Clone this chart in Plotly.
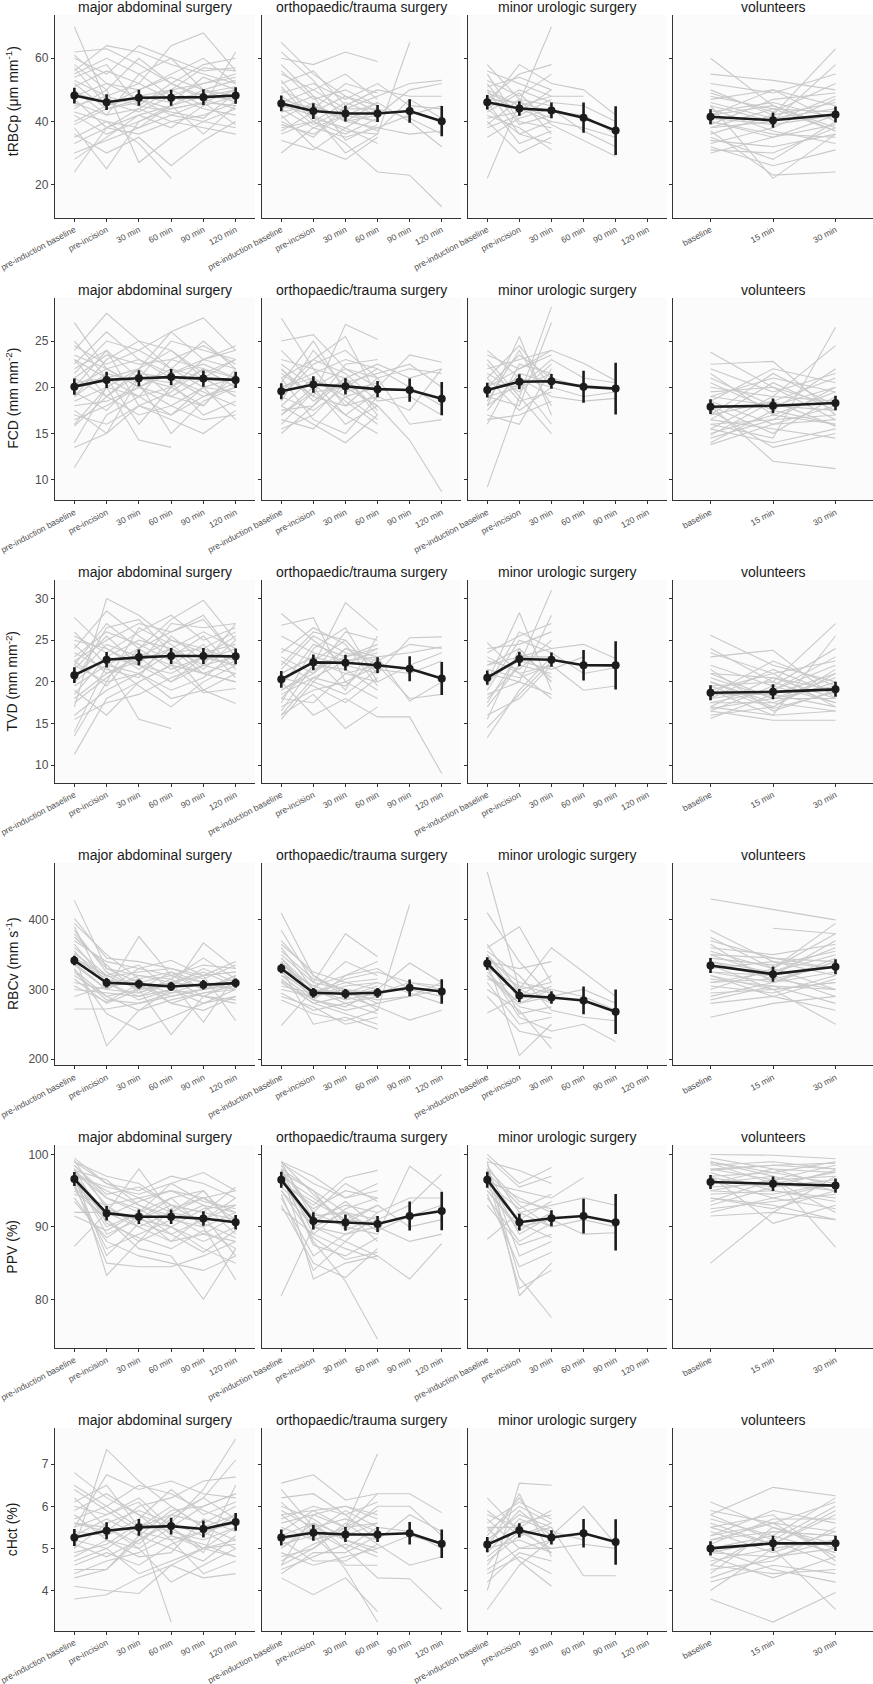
import plotly.graph_objects as go

N = None
W, H = 873, 1684

SURG_TIMES = ["pre-induction baseline", "pre-incision", "30 min", "60 min", "90 min", "120 min"]
VOL_TIMES = ["baseline", "15 min", "30 min"]
GROUPS = ["major abdominal surgery", "orthopaedic/trauma surgery", "minor urologic surgery", "volunteers"]
PARAM_LABELS = ["tRBCp (μm mm<sup>-1</sup>)", "FCD (mm mm<sup>-2</sup>)", "TVD (mm mm<sup>-2</sup>)",
                "RBCv (mm s<sup>-1</sup>)", "PPV (%)", "cHct (%)"]
Y_TICKS = [[20, 40, 60], [10, 15, 20, 25], [10, 15, 20, 25, 30], [200, 300, 400], [80, 90, 100], [4, 5, 6, 7]]
Y_RANGES = [[9.6, 73.7], [7.8, 29.7], [7.9, 32.2], [191, 482], [73.3, 101.25], [3.05, 7.86]]

# ---------------- tRBCp ----------------
T1_MAJ = [[70, 46, 48, 50, 52, 55], [24, 38, 42, 45, 48, 47], [38, 25, 40, 44, 46, 45], [62, 63, 58, 52, 48, 50],
          [60, 55, 64, 60, 56, 57], [58, 50, 27, 35, 40, 38], [35, 40, 33, 22, N, N], [45, 48, 52, 64, 68, 56],
          [52, 44, 46, 50, 45, 62], [55, 60, 55, 48, 52, 54], [42, 36, 40, 45, 50, 53], [30, 34, 38, 42, 40, 44],
          [48, 52, 50, 55, 60, 52], [50, 42, 44, 40, 38, 36], [40, 45, 48, 46, 54, 50], [56, 64, 62, 58, 55, 52],
          [33, 38, 36, 40, 42, 46], [46, 42, 55, 60, 50, 48], [61, 52, 47, 44, 46, 50], [36, 30, 35, 26, 34, 40],
          [53, 48, 45, 52, 58, 60], [44, 50, 60, 52, 47, 44], [49, 46, 43, 48, 44, 42], [57, 45, 50, 54, 50, 46],
          [28, 35, 42, 38, 45, 48], [43, 40, 38, 45, 36, 45], [51, 56, 52, 47, 49, 51], [39, 44, 47, 42, 46, 39],
          [47, 38, 44, 50, 57, 56], [54, 58, 45, 43, 41, 49]]
T1_ORT = [[65, 55, 48, 45, N, N], [30, 38, 42, 40, N, N], [60, 58, 62, 59, N, N], [55, 50, 44, 48, 52, 53],
          [48, 42, 37, 36, 65, N], [38, 40, 33, 24, 23, 13], [50, 45, 40, 42, 50, 52], [44, 38, 35, 38, 36, 37],
          [52, 56, 45, 50, 48, 48], [42, 32, 28, 35, N, N], [47, 44, 52, 49, N, N], [36, 40, 46, 42, N, N],
          [58, 48, 43, 40, N, N], [41, 46, 40, 38, 42, 45], [46, 50, 55, 47, N, N], [53, 41, 38, 44, N, N],
          [39, 36, 42, 46, 40, 32], [45, 42, 30, 36, N, N], [49, 52, 47, 52, 45, 44], [34, 31, 38, 33, N, N],
          [56, 47, 50, 45, N, N], [43, 45, 41, 37, 47, 41], [40, 35, 45, 50, N, N], [51, 40, 36, 41, N, N],
          [37, 43, 48, 43, N, N], [62, 53, 40, 46, N, N], [44, 48, 34, 39, N, N], [47, 39, 44, 44, 41, 36]]
T1_MIN = [[56, 52, 48, N, N, N], [22, 46, 70, N, N, N], [50, 36, 40, N, N, N], [45, 58, 52, 50, 42, N],
          [48, 44, 40, 38, 35, N], [53, 48, 55, N, N, N], [40, 30, 35, N, N, N], [44, 50, 46, 45, 40, N],
          [55, 40, 38, N, N, N], [38, 42, 47, N, N, N], [47, 46, 43, 42, 36, N], [42, 38, 31, N, N, N],
          [51, 54, 50, N, N, N], [35, 41, 44, 37, 32, N], [49, 45, 41, N, N, N], [46, 33, 37, N, N, N],
          [58, 47, 45, N, N, N], [43, 49, 39, 34, 29, N], [41, 43, 50, N, N, N], [52, 39, 42, N, N, N],
          [39, 47, 36, N, N, N], [47, 55, 58, N, N, N], [44, 36, 33, N, N, N], [50, 45, 48, 48, N, N]]
T1_VOL = [[60, 45, 38], [30, 35, 42], [55, 53, 50], [50, 42, 63], [45, 22, 36], [38, 40, 58], [42, 50, 45],
          [35, 28, 40], [48, 44, 37], [33, 38, 47], [40, 36, 35], [52, 49, 55], [43, 46, 41], [37, 23, 24],
          [46, 41, 44], [31, 30, 38], [39, 47, 49], [44, 37, 33], [36, 42, 46], [41, 39, 42], [47, 50, 40],
          [34, 32, 36], [49, 43, 52], [40, 35, 39], [38, 44, 43], [32, 26, 31], [45, 40, 48], [42, 45, 37]]
T1_MEAN = [[48.2, 46.1, 47.5, 47.5, 47.7, 48.2], [45.7, 43.3, 42.5, 42.5, 43.3, 40.1],
           [46.1, 44.1, 43.5, 41.2, 37.1, N], [41.5, 40.4, 42.2]]
T1_ERR = [[2.5, 2.5, 2.5, 2.5, 2.5, 2.6], [2.5, 2.5, 2.5, 2.7, 3.7, 4.8],
          [2.3, 2.3, 2.5, 4.8, 7.7, N], [2.4, 2.4, 2.5]]

# ---------------- FCD ----------------
F_MAJ = [[27, 22, 20, 19, 21, 23], [11.3, 17, 19, 20, 22, 21], [13.5, 15, 18, 17, 19, 20], [14, 20, 14.3, 13.5, N, N],
         [24, 28, 25, 22, 20, 21], [23, 21, 22, 26, 27.5, 24], [19, 23, 25, 24, 21, 19], [21, 19, 17, 18, 16.5, 17],
         [22, 24, 21, 20, 23, 24.5], [18, 18.5, 20, 22, 25, 22], [20, 22, 23, 21, 19, 20.5], [25, 21, 19, 23, 22, 20],
         [16, 20, 22, 19, 18, 21.5], [17, 16, 18, 16.5, 15, 17.5], [21.5, 25, 24, 22, 21, 19],
         [19.5, 17.5, 21, 25, 24, 23], [23.5, 22, 20, 18, 20, 16.5], [15.8, 19, 21.5, 21, 19.5, 18],
         [20.5, 21, 16, 20, 18, 22], [22.5, 26, 23, 21.5, 22.5, 21], [18.5, 20, 19, 17, 20, 19.5],
         [24.5, 22.5, 24, 26, 23, 24], [17.5, 15, 21, 20.5, 17, 18.5], [21, 23.5, 22.5, 23, 24.5, 22.5],
         [19, 21.5, 20.5, 15, 18.5, 20], [23, 19, 22, 24, 21.5, 23], [20, 24, 18, 19.5, 22, 20],
         [16.5, 18, 20, 21.5, 23, 22]]
F_ORT = [[27.5, 22, 18, 19, N, N], [15, 18, 21, 17, N, N], [25, 25.7, 22, 20, N, N], [22, 19, 26.8, 25.2, N, N],
         [18, 16, 14, 17, N, N], [20, 21, 19, 20, 23.5, 22.7], [17, 20, 22, 21, 22, 21.5], [21, 23, 25.5, 19, N, N],
         [19, 17.5, 20, 18, 14.3, 8.7], [16, 19.5, 17, 15, N, N], [23, 22, 21, 22.5, 21, 22],
         [18.5, 24, 20, 18, N, N], [21.5, 19, 18, 21, 16, 16.5], [16.5, 15.5, 19, 16.5, N, N],
         [20, 21.5, 23, 22, 20, 18], [24, 20.5, 17, 19.5, N, N], [19.5, 23, 21.5, 18.5, 19, 17],
         [17.5, 18, 22.5, 23, N, N], [22.5, 20, 16, 18, N, N], [15.5, 17, 20.5, 21.5, 22.5, 20],
         [20.5, 25, 19.5, 20.5, N, N], [18, 21, 18.5, 16, N, N], [21, 16.5, 15, 19, 17.5, 22],
         [19, 22.5, 24, 21, N, N], [17, 19.5, 20, 22, N, N], [22, 18.5, 21, 17.5, N, N]]
F_MIN = [[9.2, 19, 28.7, N, N, N], [24, 21, 20, N, N, N], [18, 25.5, 17, N, N, N], [20, 22, 24, N, N, N],
         [19, 18, 27, N, N, N], [22, 23, 24, 22.6, 20.7, N], [17, 16, 22, N, N, N], [21, 17.5, 20, 19, 19.5, N],
         [23, 19, 15, N, N, N], [19.5, 21, 19, 18.5, 18.8, N], [16, 22.5, 21.5, N, N, N],
         [20.5, 20, 23, 21, 20.5, N], [18.5, 24, 18, N, N, N], [21.5, 19.5, 22.5, N, N, N],
         [17.5, 21.5, 20.5, N, N, N], [22.5, 18.5, 19.5, N, N, N], [20, 23.5, 21, 20, N, N],
         [18, 20.5, 16, N, N, N], [23.5, 22, 23.5, N, N, N], [16.5, 17, 18.5, N, N, N],
         [21, 24.5, 20, N, N, N], [19, 20, 21.5, N, N, N]]
F_VOL = [[23.8, 20, 18], [22.5, 22.8, 17], [13.8, 16, 18], [18, 12, 11.2], [16, 14.5, 26.5], [20, 19, 24.5],
         [17, 18.5, 21], [15, 17, 16], [19, 21, 19.5], [14.5, 16.5, 20], [21, 18, 17.5], [16.5, 15.5, 14.5],
         [18.5, 22, 20.5], [17.5, 13.5, 15], [15.5, 19, 18.5], [20.5, 17.5, 22], [19.5, 20, 16.5], [16, 16.5, 17],
         [18, 15, 19], [14, 17.5, 16], [22, 19.5, 21.5], [17, 21.5, 18], [15.5, 14, 15.5], [19, 18, 20],
         [16.5, 20.5, 17.5], [18.5, 16, 16.5], [21.5, 17, 19.5], [14.8, 18.5, 15.8]]
F_MEAN = [[20.07, 20.8, 20.98, 21.1, 20.94, 20.8], [19.57, 20.3, 20.1, 19.8, 19.7, 18.77],
          [19.7, 20.6, 20.65, 20.07, 19.86, N], [17.9, 18.0, 18.3]]
F_ERR = [[0.87, 0.87, 0.87, 0.87, 0.87, 0.87], [0.87, 0.9, 0.87, 0.87, 1.26, 1.8],
         [0.8, 0.8, 0.8, 1.73, 2.8, N], [0.8, 0.8, 0.78]]

# ---------------- TVD ----------------
V_MAJ = [[11.3, 18, 20, 22, 21, 20], [14, 22, 15.5, 14.4, N, N], [27.7, 24, 22, 21, 23, 22], [17, 30, 28, 25, 24, 26],
         [22, 27, 24, 27.5, 29.8, 25], [24.5, 21, 23, 20, 22, 27], [19, 16, 20, 22, 18.7, 19.2], [20, 23, 25, 24, 22, 21],
         [13.5, 20, 21, 18, 19, 17.4], [22.5, 25, 27, 26, 28, 23], [18, 21, 22.5, 24, 26, 24],
         [21, 22.5, 19.5, 17, 20, 22], [25.5, 23.5, 26, 28, 25, 26.5], [16, 19, 21, 23.5, 24, 22.5],
         [23, 26, 24.5, 22.5, 21, 20], [20.5, 24.5, 23, 25, 23.5, 24.5], [15.5, 17.5, 18.5, 20.5, 22, 23],
         [22, 20, 26.5, 24.5, 21.5, 25], [24, 28.5, 25.5, 23, 25.5, 21.5], [19.5, 22, 21, 19, 20.5, 23.5],
         [21.5, 25.5, 22, 27, 26.5, 27], [26, 22, 24, 21.5, 23, 22], [17.5, 20.5, 23.5, 22, 24.5, 20.5],
         [23.5, 21.5, 20.5, 25.5, 22.5, 24], [20, 26.5, 27.5, 23.5, 19, 21], [18.5, 23, 22, 20, 23, 25.5],
         [22.5, 19.5, 24, 26, 27.5, 23], [25, 24, 21.5, 24, 21, 22.5]]
V_ORT = [[28.2, 25, 22, 24, N, N], [15.5, 20, 24, 22, N, N], [26.8, 27.7, 20, 18, N, N], [18, 22, 29.5, 26.2, N, N],
         [16, 18.5, 14.4, 17, N, N], [21, 23, 22, 21, 25.3, 25.4], [19, 21, 24, 23, 23.5, 24.2],
         [20, 16, 18, 15.8, 15.8, 9], [22, 26, 25, 21, N, N], [17, 19, 20, 22, 18, 18.5],
         [24, 22.5, 21, 20, 22, 23.5], [19.5, 24.5, 23, 24.5, N, N], [18.5, 20.5, 19.5, 23, 17.7, 20],
         [23, 21, 26, 25, N, N], [16.5, 22, 21.5, 19, N, N], [21.5, 25.5, 23.5, 22.5, 24.5, 24],
         [20.5, 19.5, 17.5, 20.5, N, N], [25.5, 23.5, 22.5, 23.5, N, N], [17.5, 24, 26.5, 20, N, N],
         [22.5, 20, 18.5, 21.5, 21, 22.5], [19, 21.5, 23, 24, N, N], [23.5, 26.5, 24.5, 19.5, N, N],
         [18, 17.5, 21, 22, N, N], [21, 23, 19, 25.5, N, N], [20, 22.5, 25, 21, N, N], [16, 20.5, 22.5, 23, N, N]]
V_MIN = [[13.3, 19, 23, N, N, N], [24.7, 21, 18, N, N, N], [20, 28.3, 19, N, N, N], [18, 22, 31, N, N, N],
         [21, 20, 28, N, N, N], [22, 23, 24, 24.5, 22.8, N], [16, 18, 22, N, N, N], [23, 21, 22, 19, 19.5, N],
         [19, 25, 23.5, 21, 21.7, N], [17.5, 23.5, 20.5, N, N, N], [24, 24.5, 26, N, N, N],
         [20.5, 22.5, 21.5, 23, N, N], [15.5, 24, 20, N, N, N], [22.5, 21.5, 25, N, N, N],
         [19.5, 26, 24, N, N, N], [21.5, 20.5, 22, N, N, N], [17, 22, 21, N, N, N], [23.5, 25.5, 27, N, N, N],
         [18.5, 20, 18.5, N, N, N], [20, 23, 23, N, N, N], [22, 24, 20, N, N, N], [14.5, 18.5, 22.5, N, N, N]]
V_VOL = [[25.6, 22, 20], [24, 20, 27], [16.5, 15.4, 15.4], [17, 16, 25.5], [23, 23.8, 18], [18, 19, 22],
         [20, 17, 21], [19, 21, 17], [16.8, 18, 20.5], [21, 20.5, 19], [17.5, 17.5, 16.5], [22, 19.5, 24],
         [18.5, 22.5, 19.5], [20.5, 18, 18], [16, 17, 21.5], [19.5, 20, 17.5], [21.5, 16.5, 19], [17.5, 19, 23],
         [18, 21.5, 18.5], [15.6, 18.5, 17], [20, 17.5, 20], [19, 16, 16.5], [23.5, 21, 22.5], [17, 20.5, 18],
         [18.5, 18.5, 21], [16.5, 19.5, 17.5], [21, 18, 19.5], [19.5, 16.8, 18.8]]
V_MEAN = [[20.8, 22.66, 22.94, 23.1, 23.1, 23.06], [20.3, 22.34, 22.3, 22.0, 21.57, 20.4],
          [20.5, 22.74, 22.66, 22.0, 21.98, N], [18.7, 18.8, 19.1]]
V_ERR = [[0.95, 0.93, 0.95, 0.95, 0.95, 0.95], [1.0, 0.95, 0.95, 0.95, 1.5, 1.97],
         [0.85, 0.87, 0.85, 1.83, 2.9, N], [0.9, 0.9, 0.9]]

# ---------------- RBCv ----------------
R_MAJ = [[428, 330, 310, 320, 300, 305], [402, 345, 340, 330, 320, 325], [272, 272, 280, 290, 300, 310],
         [350, 219, 270, 300, 290, 280], [390, 300, 376, 320, 310, 300], [330, 265, 242, 260, 280, 300],
         [360, 320, 300, 235, 290, 310], [340, 310, 290, 300, 367, 330], [320, 290, 300, 310, 253, 320],
         [380, 330, 320, 310, 320, 255], [310, 300, 330, 342, 320, 340], [345, 315, 305, 290, 300, 320],
         [370, 340, 330, 320, 335, 330], [325, 285, 280, 295, 310, 300], [355, 305, 315, 280, 295, 305],
         [300, 295, 290, 310, 305, 315], [385, 325, 300, 305, 330, 310], [335, 300, 320, 315, 290, 285],
         [365, 310, 285, 300, 320, 325], [315, 280, 300, 325, 310, 300], [345, 320, 335, 300, 280, 290],
         [290, 305, 310, 295, 300, 320], [375, 335, 295, 315, 345, 315], [328, 290, 270, 285, 295, 300],
         [352, 318, 325, 330, 315, 335], [305, 282, 308, 280, 270, 290], [395, 350, 315, 325, 300, 310],
         [338, 300, 295, 310, 325, 305]]
R_ORT = [[410, 320, 290, 300, N, N], [248, 300, 280, 290, N, N], [385, 310, 380, 347, N, N],
         [360, 300, 340, 320, N, N], [330, 250, 260, 243, N, N], [300, 290, 300, 270, 422, N],
         [340, 295, 310, 300, 338, 310], [320, 285, 270, 280, 290, 300], [350, 310, 300, 295, 310, 305],
         [290, 275, 250, 260, N, N], [370, 320, 295, 310, N, N], [310, 280, 290, 275, 256, 270],
         [335, 305, 320, 330, 300, 290], [285, 265, 255, 270, N, N], [345, 300, 285, 295, N, N],
         [325, 290, 305, 310, 295, 280], [315, 280, 265, 250, N, N], [355, 315, 300, 290, N, N],
         [305, 295, 315, 325, 310, 300], [340, 285, 275, 300, N, N], [365, 325, 310, 315, N, N],
         [320, 300, 295, 285, 290, 310], [295, 270, 280, 265, N, N], [330, 305, 290, 305, N, N],
         [345, 290, 300, 280, N, N], [312, 285, 320, 340, N, N]]
R_MIN = [[469, 300, 280, N, N, N], [410, 340, 290, N, N, N], [266, 290, 300, N, N, N], [360, 390, 310, N, N, N],
         [340, 205, 250, N, N, N], [350, 300, 360, 325, 290, N], [320, 280, 290, 300, 280, N],
         [330, 260, 240, 250, 225, N], [345, 310, 300, 290, 270, N], [300, 270, 215, N, N, N],
         [335, 290, 320, N, N, N], [355, 320, 270, 260, 255, N], [325, 280, 300, N, N, N], [310, 250, 260, N, N, N],
         [365, 295, 285, N, N, N], [340, 330, 340, N, N, N], [320, 275, 265, N, N, N], [350, 285, 305, N, N, N],
         [290, 240, 230, N, N, N], [330, 305, 295, N, N, N], [345, 265, 275, N, N, N], [315, 300, 310, N, N, N]]
R_VOL = [[430, 415, 400], [260, 280, 290], [385, 340, 320], [300, 330, 395], [350, 320, 370], [320, 300, 250],
         [340, 325, 360], [310, 315, 300], [370, 345, 330], [290, 310, 340], [335, 300, 310], [355, 330, 380],
         [325, 320, 290], [280, 290, 270], [345, 335, 355], [305, 295, 320], [365, 310, 345], [330, 340, 330],
         [315, 305, 280], [360, 350, 365], [295, 300, 310], [340, 315, 335], [375, 330, 300], [310, 325, 350],
         [325, 310, 325], [285, 305, 300], [350, 345, 340], [320, 290, 315], [N, 388, 380]]
R_MEAN = [[341.6, 309.6, 307.7, 304.3, 306.7, 309.1], [330.1, 295.2, 293.8, 295.2, 302.4, 297.1],
          [337.3, 291.4, 288.5, 284.2, 268, N], [334.4, 322, 332.5]]
R_ERR = [[6.7, 6.7, 6.7, 6.7, 6.7, 6.7], [7, 7, 7, 7, 12, 17.5], [9, 9.3, 9, 20, 32, N], [10.8, 11, 10.8]]

# ---------------- PPV ----------------
P_MAJ = [[99.5, 96, 94, 95, 93, 92], [87.3, 92, 90, 88, 89, 88], [98, 83.3, 88, 90, 87, 85], [97, 92, 98, 92, 94, 95],
         [96, 85, 84.5, 84.5, 86, 88], [98.5, 94, 92, 96, 97.5, 95], [95, 91, 87, 86, 80, 87],
         [97.5, 95, 93, 91, 90, 82.7], [92, 92, 91, 93, 92, 91], [99, 96, 95, 97, 96, 94], [96.5, 90, 92, 89, 91, 93],
         [94, 88, 86, 85, 84, 86], [98, 93, 94, 92, 95, 90], [97, 89, 91, 94, 90, 92], [99, 97, 96, 93, 92, 95.5],
         [95.5, 87, 89, 91, 93, 89], [97.5, 94, 92.5, 90, 88, 90], [96, 91.5, 93.5, 95, 94, 91],
         [98, 90.5, 88.5, 87, 89.5, 87], [94.5, 93, 90, 92, 91, 94], [97, 95.5, 94.5, 96, 93.5, 92.5],
         [99.2, 92.5, 91, 90, 92.5, 93], [96.8, 86, 90.5, 89, 86.5, 89.5], [91.5, 89.5, 92, 94, 95, 90],
         [98.5, 94.5, 95.5, 93, 90.5, 88.5], [95.5, 91, 88, 92.5, 94, 92], [97.8, 96.5, 93, 91.5, 89, 91.5],
         [93.5, 88.5, 91.5, 88, 91.5, 86]]
P_ORT = [[99, 97, 94, 96, N, N], [80.5, 90, 92, 88, N, N], [98, 82.8, 85, 86, N, N], [97, 88, 82.5, 74.5, N, N],
         [96, 93, 96.8, 97.8, N, N], [98.5, 92, 90, 89, 98.4, 95], [95, 90, 88, 86, 82.8, 87.7],
         [97.5, 95, 92, 91, 93, 97.3], [99, 91, 93, 92, 94, 94], [94, 86, 89, 90, 88, 89], [97, 94, 91, 93, 90, 91],
         [98, 89, 87, 85.5, N, N], [96.5, 92.5, 95, 94, N, N], [93, 85, 83, 87, N, N], [98.8, 96, 94, 95, N, N],
         [95.5, 91.5, 92, 89.5, 91.5, 93], [97.5, 87.5, 86, 88.5, N, N], [96, 93.5, 91, 90.5, N, N],
         [92.5, 89, 92.5, 94, N, N], [98, 95, 89.5, 91.5, N, N], [94.5, 84, 88, 92, N, N], [97, 90.5, 93.5, 90, N, N],
         [99, 94.5, 90.5, 93, N, N], [95, 88.5, 85.5, 86.5, N, N], [97.8, 92, 96, 93.5, N, N], [96.5, 90, 89, 91, N, N]]
P_MIN = [[100, 96, 98.2, N, N, N], [88.3, 92, 90, N, N, N], [99, 80.5, 85, N, N, N], [98, 83, 77.5, N, N, N],
         [97, 81.5, 84, N, N, N], [96, 95, 94, 96.8, N, N], [98.5, 92, 93, 94, 93, N], [95, 90, 91, 89, 89.2, N],
         [97.5, 93, 90, 91, 90, N], [99, 97.8, 96, N, N, N], [94, 88, 90.5, N, N, N], [96.5, 94, 92, N, N, N],
         [98, 86, 88, N, N, N], [95.5, 91, 93.5, N, N, N], [97, 89, 91.5, N, N, N], [93, 87.5, 89, N, N, N],
         [99.5, 95.5, 97, N, N, N], [96, 92.5, 94.5, N, N, N], [94.5, 84.5, 86.5, N, N, N], [98, 93.5, 92.5, N, N, N],
         [97.5, 90.5, 88.5, N, N, N], [95, 89.5, 92, N, N, N]]
P_VOL = [[85, 92, 97], [100, 99.9, 99.4], [99, 97, 87.2], [97, 90.5, 93], [92, 94, 96], [98, 98.5, 98], [96, 97, 95],
         [94, 93, 91], [99.5, 98, 97.5], [95, 96.5, 98.5], [97.5, 95, 94], [93, 95.5, 96.5], [98.5, 99, 98],
         [96.5, 94, 92.5], [91.5, 92, 91], [97, 97.5, 96], [95.5, 96, 97.5], [99, 97.5, 99], [94.5, 95, 93.5],
         [98, 96.5, 97], [96, 98, 95.5], [92.5, 93.5, 94.5], [97.8, 98.5, 98.8], [95, 94.5, 96], [98.8, 96, 95],
         [93.5, 96.5, 92], [96.8, 95.5, 97.8], [94, 92.5, 95]]
P_MEAN = [[96.6, 91.9, 91.4, 91.4, 91.15, 90.65], [96.5, 90.83, 90.6, 90.4, 91.5, 92.2],
          [96.5, 90.65, 91.2, 91.5, 90.65, N], [96.2, 95.95, 95.7]]
P_ERR = [[0.97, 1.0, 1.0, 1.0, 1.0, 1.0], [1.1, 1.2, 1.1, 1.1, 2.0, 2.65], [1.1, 1.15, 1.1, 2.4, 3.9, N],
         [0.97, 1.0, 0.97]]

# ---------------- cHct ----------------
C_MAJ = [[6.8, 6.2, 5.8, 5.5, 6.0, 6.3], [3.8, 3.9, 4.3, 4.6, 5.0, 5.2], [4.1, 4.0, 3.93, 4.6, 4.3, 4.4],
         [5.0, 7.35, 6.6, 6.0, 5.5, 5.8], [6.5, 6.0, 5.5, 3.25, N, N], [5.5, 6.75, 6.4, 6.6, 6.3, 6.2],
         [4.5, 4.5, 5.2, 5.6, 6.4, 7.6], [5.2, 5.0, 5.5, 5.8, 6.2, 7.1], [6.0, 5.8, 6.2, 5.5, 5.0, 4.8],
         [4.8, 5.2, 5.0, 4.2, 4.6, 5.0], [5.6, 5.4, 6.0, 6.2, 6.6, 6.7], [5.9, 6.3, 5.8, 5.2, 5.4, 5.6],
         [4.4, 4.7, 4.9, 5.3, 5.1, 4.8], [5.3, 5.7, 5.3, 5.0, 4.7, 5.3], [6.2, 5.5, 5.1, 5.8, 5.6, 6.0],
         [4.9, 5.1, 5.6, 5.4, 5.2, 5.5], [5.7, 6.0, 6.5, 6.3, 5.9, 5.6], [4.6, 4.9, 4.6, 5.1, 5.4, 5.0],
         [5.4, 5.3, 5.7, 6.4, 5.8, 6.1], [6.4, 5.9, 5.4, 5.2, 4.4, 4.7], [5.0, 5.6, 5.9, 5.6, 5.3, 5.8],
         [5.8, 5.2, 4.8, 4.9, 5.7, 5.4], [4.3, 4.5, 5.3, 5.9, 6.0, 6.3], [5.5, 5.8, 6.1, 5.3, 5.0, 5.5],
         [6.1, 6.5, 5.5, 6.0, 5.5, 5.2], [4.7, 5.0, 4.4, 4.7, 5.0, 5.1], [5.1, 4.8, 5.2, 5.7, 6.2, 5.7],
         [5.6, 5.5, 5.0, 5.5, 4.9, 6.5]]
C_ORT = [[6.55, 6.75, 6.15, 6.3, N, N], [4.3, 3.9, 4.3, 3.5, N, N], [6.4, 5.5, 4.5, 3.25, N, N],
         [4.6, 5.0, 5.5, 7.25, N, N], [5.8, 5.9, 5.5, 6.3, 6.3, 5.85], [5.0, 5.6, 5.0, 4.3, 4.28, 3.55],
         [5.5, 5.2, 5.4, 6.0, 6.0, 5.3], [4.8, 5.0, 5.6, 5.1, 4.6, 4.8], [6.2, 6.3, 5.8, 5.2, 5.8, 5.4],
         [5.2, 5.4, 5.0, 5.5, 5.4, 5.0], [4.9, 4.6, 4.8, 5.0, 5.3, 5.1], [5.6, 5.8, 6.0, 5.8, N, N],
         [5.3, 5.6, 5.3, 5.6, N, N], [4.5, 4.8, 5.1, 4.8, N, N], [5.9, 5.5, 5.7, 5.4, N, N], [5.1, 5.3, 4.6, 4.6, N, N],
         [5.7, 6.0, 5.8, 6.1, N, N], [4.7, 5.1, 5.4, 5.2, N, N], [6.0, 5.7, 5.2, 5.0, N, N], [5.4, 5.9, 6.0, 5.7, N, N],
         [4.4, 4.9, 4.9, 5.3, N, N], [5.8, 5.2, 5.5, 5.9, N, N], [5.0, 5.5, 5.2, 4.9, N, N], [6.1, 5.4, 5.9, 5.5, N, N],
         [5.2, 4.7, 4.7, 5.1, N, N], [4.6, 5.8, 5.5, 5.6, N, N]]
C_MIN = [[6.2, 5.4, 5.0, N, N, N], [3.55, 4.6, 5.2, N, N, N], [4.0, 6.55, 6.5, N, N, N], [5.0, 6.3, 4.8, N, N, N],
         [5.5, 4.7, 4.1, N, N, N], [4.8, 5.4, 5.3, 6.0, 5.1, N], [5.2, 5.8, 5.5, 4.35, 4.35, N],
         [4.5, 5.0, 5.0, 5.1, 5.0, N], [5.6, 6.1, 5.7, N, N, N], [4.2, 4.9, 4.7, N, N, N], [5.8, 5.5, 5.9, N, N, N],
         [4.9, 5.7, 5.4, 5.2, N, N], [5.4, 6.0, 5.6, N, N, N], [5.0, 5.2, 4.9, N, N, N], [5.7, 5.0, 5.2, N, N, N],
         [4.6, 5.6, 5.8, N, N, N], [5.3, 6.2, 5.1, N, N, N], [5.9, 5.3, 5.5, N, N, N], [4.4, 4.8, 4.4, N, N, N],
         [5.1, 5.9, 5.3, N, N, N], [4.7, 5.3, 5.6, N, N, N], [5.5, 5.5, 4.9, N, N, N]]
C_VOL = [[6.1, 5.5, 5.0], [3.8, 3.25, 3.95], [4.0, 5.0, 3.55], [5.8, 6.45, 6.25], [5.0, 5.3, 6.2], [5.5, 5.8, 4.7],
         [4.5, 4.7, 5.5], [5.2, 5.4, 5.3], [4.8, 4.3, 4.8], [5.6, 5.1, 5.9], [4.2, 4.6, 4.4], [5.3, 5.9, 5.6],
         [4.7, 5.0, 5.2], [5.9, 5.6, 6.1], [4.9, 5.2, 4.6], [5.4, 4.9, 5.4], [4.4, 5.5, 5.1], [5.7, 5.3, 4.9],
         [5.1, 5.7, 5.7], [4.6, 4.4, 4.5], [5.5, 5.1, 5.8], [4.3, 4.8, 5.0], [5.0, 4.5, 4.2], [5.2, 5.6, 5.4],
         [4.6, 5.4, 5.3], [5.8, 5.2, 6.0], [4.9, 4.8, 5.2], [5.3, 5.6, 4.8]]
C_MEAN = [[5.26, 5.42, 5.5, 5.53, 5.46, 5.63], [5.26, 5.37, 5.33, 5.33, 5.36, 5.11],
          [5.09, 5.43, 5.26, 5.36, 5.15, N], [5.0, 5.12, 5.12]]
C_ERR = [[0.2, 0.2, 0.2, 0.2, 0.2, 0.21], [0.19, 0.19, 0.18, 0.18, 0.27, 0.34], [0.18, 0.17, 0.17, 0.34, 0.54, N],
         [0.17, 0.18, 0.18]]

ROWS = [
    ([T1_MAJ, T1_ORT, T1_MIN, T1_VOL], T1_MEAN, T1_ERR),
    ([F_MAJ, F_ORT, F_MIN, F_VOL], F_MEAN, F_ERR),
    ([V_MAJ, V_ORT, V_MIN, V_VOL], V_MEAN, V_ERR),
    ([R_MAJ, R_ORT, R_MIN, R_VOL], R_MEAN, R_ERR),
    ([P_MAJ, P_ORT, P_MIN, P_VOL], P_MEAN, P_ERR),
    ([C_MAJ, C_ORT, C_MIN, C_VOL], C_MEAN, C_ERR),
]

# ---------------- layout geometry (pixels) ----------------
X_PIX = [(55, 255), (262, 461), (468, 667), (673, 873)]
ROW_TOP0, ROW_STEP, PANEL_H = 15, 282.6, 202.5
YTITLE_SHIFT = [-15, 0, 0, 0, 0, 0]

FONT = "Liberation Sans, Arial, Helvetica, sans-serif"
GREY = "#c9c9c9"
DARK = "#1c1c1c"
AXIS = "#333333"
TICKTXT = "#4d4d4d"

fig = go.Figure()
annotations = []
layout_axes = {}

for r, (inds, means, errs) in enumerate(ROWS):
    top = ROW_TOP0 + ROW_STEP * r
    bot = top + PANEL_H
    ydom = [1 - bot / H, 1 - top / H]
    for c in range(4):
        k = r * 4 + c + 1
        sfx = "" if k == 1 else str(k)
        times = VOL_TIMES if c == 3 else SURG_TIMES
        pos = {t: i + 1 for i, t in enumerate(times)}
        xs, ys = [], []
        for patient in inds[c]:
            for t, v in zip(times, patient):
                xs.append(pos[t])
                ys.append(v)
            xs.append(None)
            ys.append(None)
        fig.add_trace(go.Scatter(x=xs, y=ys, mode="lines", line=dict(color=GREY, width=1.1),
                                 connectgaps=False, hoverinfo="skip", showlegend=False,
                                 xaxis="x" + sfx, yaxis="y" + sfx))
        fig.add_trace(go.Scatter(x=[pos[t] for t in times], y=means[c], mode="lines+markers",
                                 line=dict(color=DARK, width=2.6), marker=dict(color=DARK, size=8),
                                 error_y=dict(type="data", array=errs[c], visible=True, thickness=2.6,
                                              width=0, color=DARK),
                                 showlegend=False, xaxis="x" + sfx, yaxis="y" + sfx))
        x0, x1 = X_PIX[c]
        layout_axes["xaxis" + sfx] = dict(
            domain=[x0 / W, x1 / W], anchor="y" + sfx, range=[0.4, len(times) + 0.6],
            tickmode="array", tickvals=[pos[t] for t in times], ticktext=times, tickangle=-28,
            tickfont=dict(size=8.5, color=TICKTXT, family=FONT), showgrid=False, zeroline=False,
            showline=True, linecolor=AXIS, linewidth=1.3, ticks="outside", ticklen=3,
            tickcolor=AXIS, tickwidth=1, automargin=False, fixedrange=True,
            ticklabeloverflow="allow")
        layout_axes["yaxis" + sfx] = dict(
            domain=ydom, anchor="x" + sfx, range=Y_RANGES[r], tickmode="array", tickvals=Y_TICKS[r],
            showticklabels=(c == 0), tickfont=dict(size=12, color=TICKTXT, family=FONT),
            showgrid=False, zeroline=False, showline=True, linecolor=AXIS, linewidth=1.3,
            ticks="outside", ticklen=3, tickcolor=AXIS, tickwidth=1, automargin=False, fixedrange=True,
            ticklabeloverflow="allow")
        annotations.append(dict(text=GROUPS[c], xref="paper", yref="paper", x=(x0 + x1) / 2 / W,
                                y=1 - (top - 8) / H, xanchor="center", yanchor="middle", showarrow=False,
                                font=dict(size=14, color="#1a1a1a", family=FONT)))
    annotations.append(dict(text=PARAM_LABELS[r], xref="paper", yref="paper", x=12 / W,
                            y=1 - ((top + bot) / 2 + YTITLE_SHIFT[r]) / H, xanchor="center",
                            yanchor="middle", textangle=-90, showarrow=False,
                            font=dict(size=14, color="#1a1a1a", family=FONT)))

fig.update_layout(
    width=W, height=H, margin=dict(l=0, r=0, t=0, b=0),
    paper_bgcolor="white", plot_bgcolor="#fbfbfb",
    annotations=annotations, showlegend=False, font=dict(family=FONT),
    **layout_axes,
)

fig.write_html("out.html", config={"displayModeBar": False},
               post_script="document.body.style.margin='0px';")
